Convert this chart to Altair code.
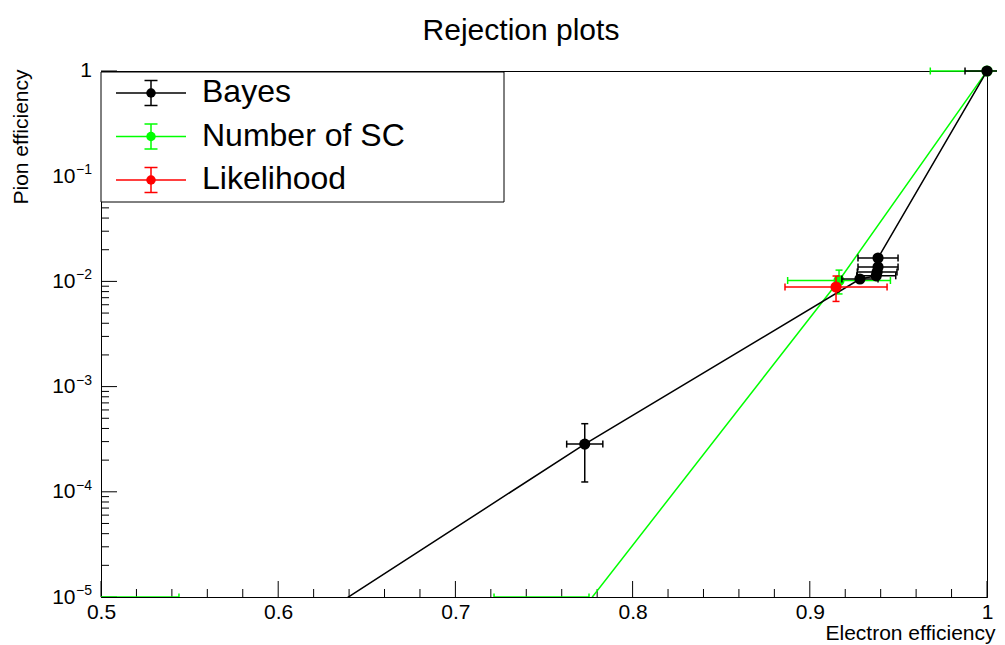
import altair as alt
import pandas as pd

# ---------------- values ----------------
bayes_x    = [1.0, 0.9385, 0.9385, 0.9380, 0.9375, 0.9283, 0.7730, 0.600]
bayes_y    = [1.0, 0.0167, 0.0137, 0.0123, 0.0113, 0.01054, 2.84e-4, 3.7e-6]
bayes_xerr = [0.0124, 0.0113, 0.0113, 0.0112, 0.0110, 0.0102, 0.0102, 0.0]
bayes_yerr = [0.0, 0.0007, 0.0006, 0.0006, 0.0005, 0.0005, 1.6e-4, 0.0]

sc_x    = [1.0, 0.9165, 0.7486, 0.500]
sc_y    = [1.0, 0.0102, 2.4e-6, 1.0e-6]
sc_xerr = [0.032, 0.029, 0.0268, 0.044]
sc_yerr = [0.0, 0.0026, 0.0, 0.0]

lk_x    = [0.9148]
lk_y    = [0.00885]
lk_xerr = [0.0288]
lk_yerr = [0.0024]

series_names  = ["Bayes", "Number of SC", "Likelihood"]
series_colors = ["#000000", "#00ff00", "#ff0000"]

x_major = [0.5, 0.6, 0.7, 0.8, 0.9, 1.0]
x_minor = [0.52, 0.54, 0.56, 0.58, 0.62, 0.64, 0.66, 0.68, 0.72, 0.74, 0.76, 0.78,
           0.82, 0.84, 0.86, 0.88, 0.92, 0.94, 0.96, 0.98]
y_decades   = [1e-5, 1e-4, 1e-3, 1e-2, 1e-1, 1.0]
y_exponents = ["\u22125", "\u22124", "\u22123", "\u22122", "\u22121", ""]
y_base      = ["10", "10", "10", "10", "10", "1"]
y_minor = [m * d for d in [1e-5, 1e-4, 1e-3, 1e-2, 1e-1] for m in range(2, 10)]

title_text = "Rejection plots"
x_title = "Electron efficiency"
y_title = "Pion efficiency"

# ---------------- layout ----------------
W, H = 886, 526
FONT = "Liberation Sans"
YMIN = 1e-5
xscale = alt.Scale(domain=[0.5, 1.0], nice=False, zero=False)
yscale = alt.Scale(type="log", domain=[YMIN, 1.0], nice=False)


def frame(xs, ys, xe, ye, name):
    return pd.DataFrame({"x": xs, "y": ys, "xerr": xe, "yerr": ye,
                         "series": name, "order": list(range(len(xs)))})


layers = []

# x axis (labels) + inward major ticks
layers.append(
    alt.Chart(pd.DataFrame({"v": x_major})).mark_rule(color="black", strokeWidth=1).encode(
        x=alt.X("v:Q", scale=xscale, axis=alt.Axis(
            values=x_major,
            labelExpr="datum.value == 1 ? '1' : format(datum.value, '.1f')",
            ticks=False, tickSize=0, domain=True, domainColor="black", domainWidth=1,
            grid=False, labelFont=FONT, labelFontSize=21, labelColor="black",
            labelPadding=4, labelFlush=False, labelOverlap=False,
            title=x_title, titleFont=FONT, titleFontSize=21, titleFontWeight="normal",
            titleColor="black", titleAnchor="end", titleAlign="right",
            titleBaseline="alphabetic", titleX=894, titleY=42)),
        y=alt.value(H), y2=alt.value(H - 16))
)
layers.append(
    alt.Chart(pd.DataFrame({"v": x_minor})).mark_rule(color="black", strokeWidth=1).encode(
        x=alt.X("v:Q", scale=xscale),
        y=alt.value(H), y2=alt.value(H - 8))
)

ydf = pd.DataFrame({"v": y_decades, "base": y_base, "exp": y_exponents})
layers.append(
    alt.Chart(ydf).mark_rule(color="black", strokeWidth=1).encode(
        y=alt.Y("v:Q", scale=yscale, axis=alt.Axis(
            values=y_decades,
            labelExpr="datum.value >= 1 ? '' : '10'",
            ticks=False, tickSize=0, domain=True, domainColor="black", domainWidth=1,
            grid=False, labelFont=FONT, labelFontSize=21, labelColor="black",
            labelPadding=26, labelFlush=False, labelOverlap=False, labelBaseline="middle",
            title=y_title, titleFont=FONT, titleFontSize=21, titleFontWeight="normal",
            titleColor="black", titleAnchor="end", titleAlign="right", titleAngle=270,
            titleBaseline="alphabetic", titleX=-74, titleY=-2)),
        x=alt.value(0), x2=alt.value(16))
)
layers.append(
    alt.Chart(pd.DataFrame({"v": y_minor})).mark_rule(color="black", strokeWidth=1).encode(
        y=alt.Y("v:Q", scale=yscale),
        x=alt.value(0), x2=alt.value(8))
)
# "1" label and exponents of the y tick labels
layers.append(
    alt.Chart(ydf).transform_filter("datum.exp == ''").mark_text(
        font=FONT, fontSize=21, align="right", baseline="middle", color="black").encode(
        y=alt.Y("v:Q", scale=yscale), x=alt.value(-9), text="base:N")
)
layers.append(
    alt.Chart(ydf).transform_filter("datum.exp != ''").mark_text(
        font=FONT, fontSize=14, align="left", baseline="alphabetic", dy=-2, color="black").encode(
        y=alt.Y("v:Q", scale=yscale), x=alt.value(-25), text="exp:N")
)

IN_RANGE = f"datum.y >= {YMIN} && datum.x >= 0.5 && datum.x <= 1.0"


def errorbar_layers(base, color, clip):
    out = []
    bx = base.transform_filter("datum.xerr > 0")
    by = base.transform_filter("datum.yerr > 0")
    out.append(bx.mark_rule(color=color, strokeWidth=1.5, clip=clip).encode(
        x=alt.X("xlo:Q", scale=xscale), x2="xhi:Q",
        y=alt.Y("yb:Q", scale=yscale)))
    out.append(by.mark_rule(color=color, strokeWidth=1.5, clip=clip).encode(
        x=alt.X("x:Q", scale=xscale),
        y=alt.Y("ylo:Q", scale=yscale), y2="yhi:Q"))
    for f in ["xlo", "xhi"]:
        out.append(bx.mark_tick(color=color, orient="vertical", size=7, thickness=1.5,
                                opacity=1, clip=clip).encode(
            x=alt.X(f + ":Q", scale=xscale),
            y=alt.Y("yb:Q", scale=yscale)))
    for f in ["ylo", "yhi"]:
        out.append(by.mark_tick(color=color, orient="horizontal", size=7, thickness=1.5,
                                opacity=1, clip=clip).encode(
            x=alt.X("x:Q", scale=xscale),
            y=alt.Y(f + ":Q", scale=yscale)))
    return out


def series_layers(df, color, draw_line=True):
    out = []
    calc = dict(xlo="datum.x - datum.xerr", xhi="datum.x + datum.xerr",
                yb=f"max(datum.y, {YMIN})",
                ylo=f"max(datum.y - datum.yerr, {YMIN})", yhi="datum.y + datum.yerr")
    base = alt.Chart(df).transform_calculate(**calc)
    if draw_line:
        out.append(alt.Chart(df).mark_line(color=color, strokeWidth=1.5, clip=True).encode(
            x=alt.X("x:Q", scale=xscale),
            y=alt.Y("y:Q", scale=yscale),
            order="order:Q"))
    # points inside the frame: bars and markers drawn whole
    out += errorbar_layers(base.transform_filter(IN_RANGE), color, clip=False)
    # points below the frame: bars pinned to the frame edge and clipped
    out += errorbar_layers(base.transform_filter(f"!({IN_RANGE})"), color, clip=True)
    out.append(alt.Chart(df).transform_filter(IN_RANGE).mark_circle(
        color=color, size=125, opacity=1, clip=False).encode(
        x=alt.X("x:Q", scale=xscale),
        y=alt.Y("y:Q", scale=yscale)))
    return out


layers += series_layers(frame(sc_x, sc_y, sc_xerr, sc_yerr, "Number of SC"), series_colors[1])
layers += series_layers(frame(bayes_x, bayes_y, bayes_xerr, bayes_yerr, "Bayes"), series_colors[0])
layers += series_layers(frame(lk_x, lk_y, lk_xerr, lk_yerr, "Likelihood"), series_colors[2],
                        draw_line=False)

# ---------------- legend box ----------------
leg_df = pd.DataFrame({"name": series_names, "color": series_colors})
layers.append(
    alt.Chart(leg_df).transform_filter("datum.name == 'Bayes'").mark_rect(
        fill="white", stroke="black", strokeWidth=1).encode(
        x=alt.value(0), x2=alt.value(403), y=alt.value(1), y2=alt.value(131))
)
for i, (name, color) in enumerate(zip(series_names, series_colors)):
    y0 = 22 + 43.5 * i
    row = alt.Chart(leg_df).transform_filter(f"datum.name == '{name}'")
    layers.append(row.mark_rule(color=color, strokeWidth=1.5).encode(
        x=alt.value(15), x2=alt.value(85), y=alt.value(y0)))
    layers.append(row.mark_rule(color=color, strokeWidth=1.5).encode(
        x=alt.value(50), y=alt.value(y0 - 12.5), y2=alt.value(y0 + 12.5)))
    for yy in (y0 - 12.5, y0 + 12.5):
        layers.append(row.mark_rule(color=color, strokeWidth=1.5).encode(
            x=alt.value(43.5), x2=alt.value(56.5), y=alt.value(yy)))
    layers.append(row.mark_circle(color=color, size=90, opacity=1).encode(
        x=alt.value(50), y=alt.value(y0)))
    layers.append(row.mark_text(font=FONT, fontSize=32, align="left", baseline="alphabetic",
                                color="black").encode(
        x=alt.value(101), y=alt.value(y0 + 9), text="name:N"))

# ---------------- title ----------------
layers.append(
    alt.Chart(pd.DataFrame({"t": [title_text]})).mark_text(
        font=FONT, fontSize=30, align="center", baseline="alphabetic", color="black").encode(
        x=alt.value(420), y=alt.value(-31), text="t:N")
)

chart = alt.layer(*layers).properties(
    width=W, height=H,
    autosize=alt.AutoSizeParams(type="none"),
    padding={"left": 93, "top": 63, "right": 10, "bottom": 48},
    background="white",
).configure_view(stroke="black", strokeWidth=1).configure_axis(
    grid=False, ticks=False, labelFont=FONT, titleFont=FONT, labelColor="black",
    titleColor="black", domainColor="black")

chart.save("out.html", embed_options={"renderer": "svg", "actions": False})
